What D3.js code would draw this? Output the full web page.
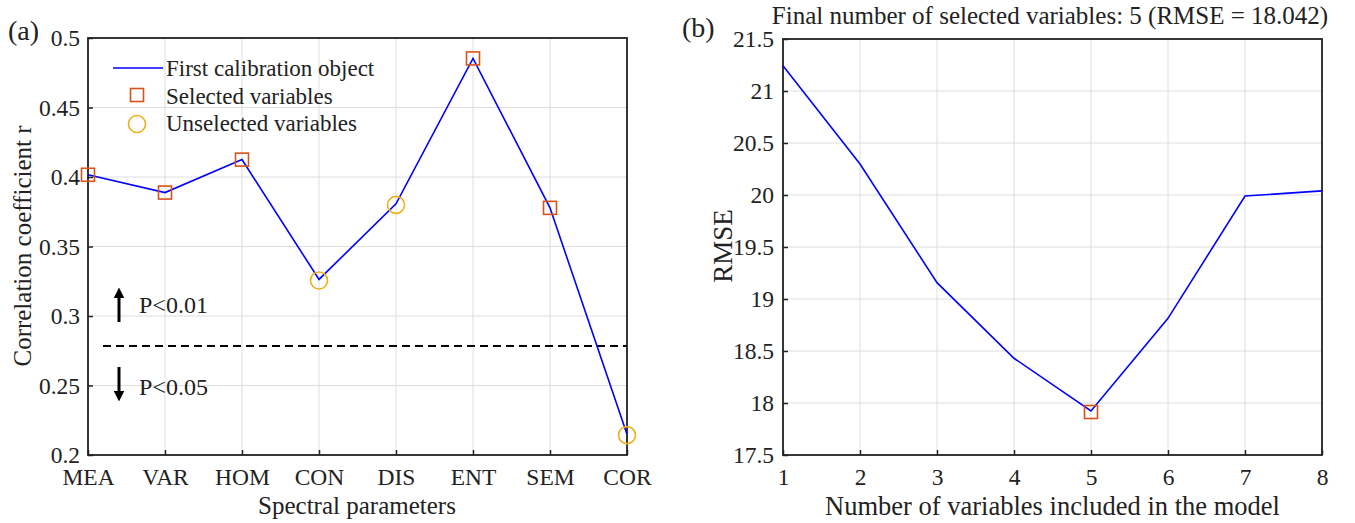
<!DOCTYPE html>
<meta charset="utf-8">
<script src="https://d3js.org/d3.v7.min.js"></script>
<style>
  body { margin: 0; background: #fff; }
  svg text { font-family: "Liberation Serif", "Times New Roman", serif; fill: #222; }
  .grid line { stroke: #dedede; stroke-width: 1; }
  .tick line { stroke: #222; stroke-width: 1.5; }
</style>
<div id="chart"></div>
<script>
  // panel (a) data
  var paramNames = ["MEA", "VAR", "HOM", "CON", "DIS", "ENT", "SEM", "COR"];
  var corrValues = [0.4016, 0.3888, 0.4125, 0.3263, 0.3807, 0.4853, 0.3778, 0.2150];
  var selectedParams = ["MEA", "VAR", "HOM", "ENT", "SEM"];
  var corrTicks = [0.2, 0.25, 0.3, 0.35, 0.4, 0.45, 0.5];
  var thresholdR = 0.2785;

  // panel (b) data
  var varCounts = [1, 2, 3, 4, 5, 6, 7, 8];
  var rmseValues = [21.243, 20.298, 19.157, 18.43, 17.923, 18.814, 19.99, 20.04];
  var rmseTicks = [17.5, 18, 18.5, 19, 19.5, 20, 20.5, 21, 21.5];
  var finalCount = 5;

  var W = 1355, H = 523;
  var tickFont = "23.5px", legFont = "23px", labelA = "25px", labelB = "26.5px";

  var svg = d3.select("#chart").append("svg")
      .attr("width", W)
      .attr("height", H);

  svg.append("defs").append("marker")
      .attr("id", "head")
      .attr("viewBox", "0 0 10 10")
      .attr("refX", 4).attr("refY", 5)
      .attr("markerWidth", 3.6).attr("markerHeight", 3.6)
      .attr("markerUnits", "strokeWidth")
      .attr("orient", "auto")
    .append("path")
      .attr("d", "M0,0 L10,5 L0,10 Z")
      .attr("fill", "#000");

  // ---------- panel (a) ----------
  var xA = d3.scalePoint().domain(paramNames).range([88, 627]);
  var yA = d3.scaleLinear().domain([0.2, 0.5]).range([455, 38]);

  var gA = svg.append("g");

  gA.append("g").attr("class", "grid")
    .selectAll("line").data(paramNames).enter().append("line")
      .attr("x1", d => xA(d)).attr("x2", d => xA(d))
      .attr("y1", yA(0.2)).attr("y2", yA(0.5));
  gA.append("g").attr("class", "grid")
    .selectAll("line").data(corrTicks).enter().append("line")
      .attr("x1", xA.range()[0]).attr("x2", xA.range()[1])
      .attr("y1", d => yA(d)).attr("y2", d => yA(d));

  gA.append("g")
      .attr("transform", "translate(0," + yA(0.2) + ")")
      .call(d3.axisBottom(xA).tickSize(-5).tickPadding(13))
      .call(g => g.select(".domain").remove())
      .selectAll("text").style("font-size", tickFont);

  gA.append("g")
      .attr("transform", "translate(" + xA.range()[0] + ",0)")
      .call(d3.axisLeft(yA).tickValues(corrTicks).tickFormat(d => String(d)).tickSize(-5).tickPadding(8))
      .call(g => g.select(".domain").remove())
      .selectAll("text").style("font-size", tickFont);

  gA.append("rect")
      .attr("x", xA.range()[0]).attr("y", yA(0.5))
      .attr("width", xA.range()[1] - xA.range()[0])
      .attr("height", yA(0.2) - yA(0.5))
      .attr("fill", "none").attr("stroke", "#222").attr("stroke-width", 1.8);

  // threshold line
  gA.append("line")
      .attr("x1", 103).attr("x2", xA.range()[1])
      .attr("y1", yA(thresholdR)).attr("y2", yA(thresholdR))
      .attr("stroke", "#000").attr("stroke-width", 2)
      .attr("stroke-dasharray", "8,5");

  // arrows + p labels
  gA.append("line")
      .attr("x1", 119).attr("x2", 119)
      .attr("y1", 322).attr("y2", 294)
      .attr("stroke", "#000").attr("stroke-width", 3)
      .attr("marker-end", "url(#head)");
  gA.append("line")
      .attr("x1", 119).attr("x2", 119)
      .attr("y1", 367).attr("y2", 395)
      .attr("stroke", "#000").attr("stroke-width", 3)
      .attr("marker-end", "url(#head)");
  gA.append("text").attr("x", 139).attr("y", 313).style("font-size", "24px").text("P<0.01");
  gA.append("text").attr("x", 139).attr("y", 395).style("font-size", "24px").text("P<0.05");

  var lineA = d3.line().x((d, i) => xA(paramNames[i])).y(d => yA(d));
  gA.append("path")
      .datum(corrValues)
      .attr("d", lineA)
      .attr("fill", "none").attr("stroke", "#0000ff").attr("stroke-width", 1.6);

  gA.selectAll("rect.sel")
    .data(paramNames.filter(p => selectedParams.includes(p)))
    .enter().append("rect").attr("class", "sel")
      .attr("x", d => xA(d) - 6.5).attr("y", d => yA(corrValues[paramNames.indexOf(d)]) - 6.5)
      .attr("width", 13).attr("height", 13)
      .attr("fill", "none").attr("stroke", "#D95319").attr("stroke-width", 1.6);

  gA.selectAll("circle.unsel")
    .data(paramNames.filter(p => !selectedParams.includes(p)))
    .enter().append("circle").attr("class", "unsel")
      .attr("cx", d => xA(d)).attr("cy", d => yA(corrValues[paramNames.indexOf(d)]) + 1)
      .attr("r", 8.5)
      .attr("fill", "none").attr("stroke", "#EDB120").attr("stroke-width", 1.6);

  // legend
  var leg = gA.append("g");
  leg.append("line").attr("x1", 113).attr("x2", 163).attr("y1", 68).attr("y2", 68)
      .attr("stroke", "#0000ff").attr("stroke-width", 1.6);
  leg.append("rect").attr("x", 130.5).attr("y", 88.5).attr("width", 13).attr("height", 13)
      .attr("fill", "none").attr("stroke", "#D95319").attr("stroke-width", 1.6);
  leg.append("circle").attr("cx", 137).attr("cy", 124).attr("r", 8.5)
      .attr("fill", "none").attr("stroke", "#EDB120").attr("stroke-width", 1.6);
  leg.append("text").attr("x", 166).attr("y", 76).style("font-size", legFont).text("First calibration object");
  leg.append("text").attr("x", 166).attr("y", 104).style("font-size", legFont).text("Selected variables");
  leg.append("text").attr("x", 166).attr("y", 131).style("font-size", legFont).text("Unselected variables");

  gA.append("text")
      .attr("x", 357).attr("y", 514)
      .attr("text-anchor", "middle").style("font-size", labelA)
      .text("Spectral parameters");
  gA.append("text")
      .attr("transform", "translate(31,246) rotate(-90)")
      .attr("text-anchor", "middle").style("font-size", labelA)
      .text("Correlation coefficient r");
  gA.append("text").attr("x", 8).attr("y", 40).style("font-size", "28px").text("(a)");

  // ---------- panel (b) ----------
  var xB = d3.scaleLinear().domain([1, 8]).range([783, 1322]);
  var yB = d3.scaleLinear().domain([17.5, 21.5]).range([455, 39]);

  var gB = svg.append("g");

  gB.append("g").attr("class", "grid")
    .selectAll("line").data(varCounts).enter().append("line")
      .attr("x1", d => xB(d)).attr("x2", d => xB(d))
      .attr("y1", yB(17.5)).attr("y2", yB(21.5));
  gB.append("g").attr("class", "grid")
    .selectAll("line").data(rmseTicks).enter().append("line")
      .attr("x1", xB(1)).attr("x2", xB(8))
      .attr("y1", d => yB(d)).attr("y2", d => yB(d));

  gB.append("g")
      .attr("transform", "translate(0," + yB(17.5) + ")")
      .call(d3.axisBottom(xB).tickValues(varCounts).tickFormat(d3.format("d")).tickSize(-5).tickPadding(13))
      .call(g => g.select(".domain").remove())
      .selectAll("text").style("font-size", tickFont);

  gB.append("g")
      .attr("transform", "translate(" + xB(1) + ",0)")
      .call(d3.axisLeft(yB).tickValues(rmseTicks).tickFormat(d => String(d)).tickSize(-5).tickPadding(9))
      .call(g => g.select(".domain").remove())
      .selectAll("text").style("font-size", tickFont);

  gB.append("rect")
      .attr("x", xB(1)).attr("y", yB(21.5))
      .attr("width", xB(8) - xB(1))
      .attr("height", yB(17.5) - yB(21.5))
      .attr("fill", "none").attr("stroke", "#222").attr("stroke-width", 1.8);

  var lineB = d3.line().x((d, i) => xB(varCounts[i])).y(d => yB(d));
  gB.append("path")
      .datum(rmseValues)
      .attr("d", lineB)
      .attr("fill", "none").attr("stroke", "#0000ff").attr("stroke-width", 1.6);

  gB.append("rect")
      .attr("x", xB(finalCount) - 6.5)
      .attr("y", yB(rmseValues[finalCount - 1]) - 5.5)
      .attr("width", 13).attr("height", 13)
      .attr("fill", "none").attr("stroke", "#D95319").attr("stroke-width", 1.6);

  gB.append("text")
      .attr("x", 1050).attr("y", 24)
      .attr("text-anchor", "middle").style("font-size", "25px")
      .text("Final number of selected variables: 5 (RMSE = 18.042)");
  gB.append("text")
      .attr("x", (xB(1) + xB(8)) / 2).attr("y", 515)
      .attr("text-anchor", "middle").style("font-size", labelB)
      .text("Number of variables included in the model");
  gB.append("text")
      .attr("transform", "translate(732,246) rotate(-90)")
      .attr("text-anchor", "middle").style("font-size", "27px")
      .text("RMSE");
  gB.append("text").attr("x", 682).attr("y", 37).style("font-size", "28px").text("(b)");
</script>
